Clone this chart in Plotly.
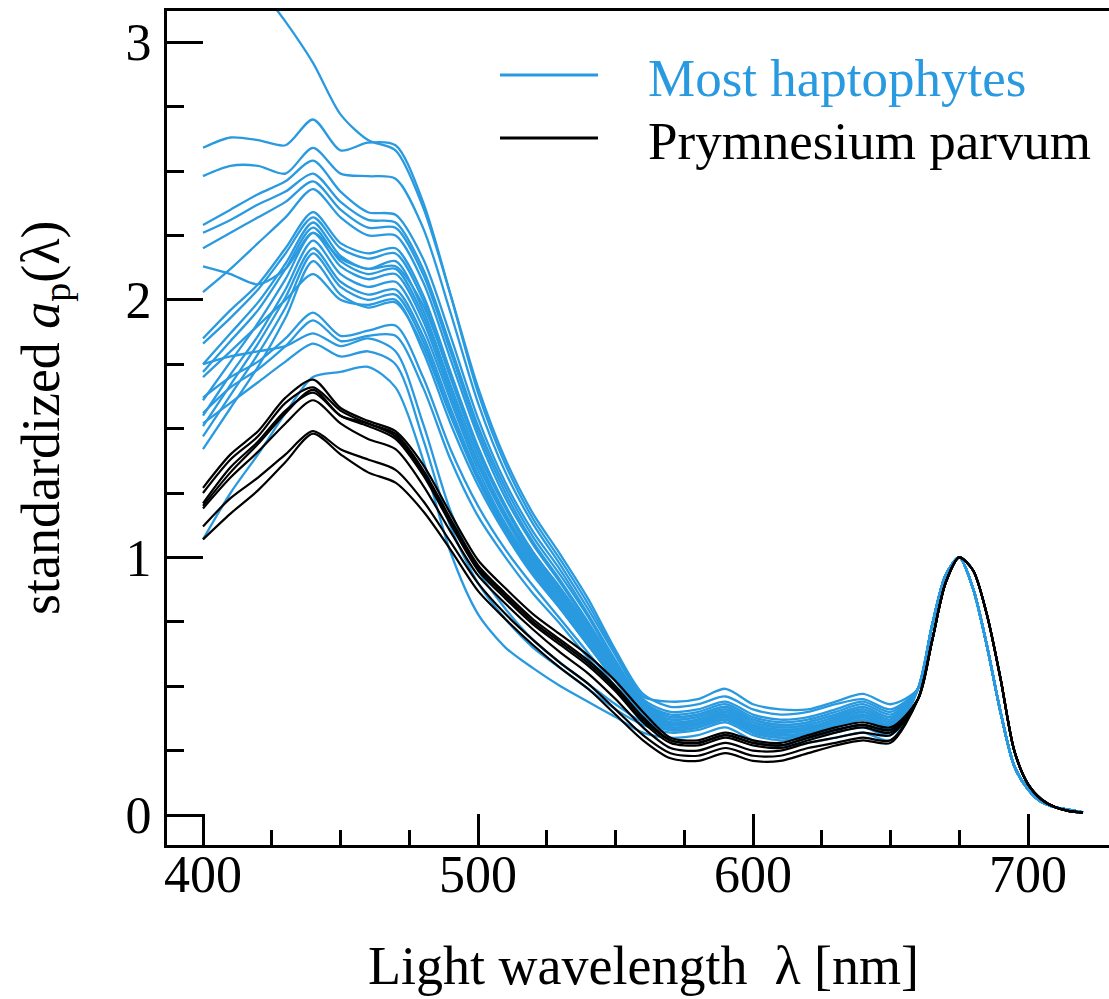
import plotly.graph_objects as go

# ---------------- data ----------------
WL_MAIN = [400, 410, 420, 430, 440, 450, 460, 470, 480, 490, 500, 510, 520,
           530, 540, 550, 560, 570, 580, 590, 600, 610, 620, 630, 640, 650]
WL_PEAK = [660, 665, 670, 675, 680, 685, 690, 695, 700, 705, 710, 715, 720]

BLUE_PEAK = [0.49, 0.73, 0.93, 1.00, 0.88, 0.66, 0.40, 0.19, 0.10, 0.05, 0.03, 0.02, 0.01]
BLACK_PEAK = [0.45, 0.67, 0.90, 1.00, 0.95, 0.78, 0.53, 0.25, 0.12, 0.06, 0.03, 0.015, 0.01]

# Most haptophytes (standardized a_p at WL_MAIN)
B00 = [3.52, 3.37, 3.22, 3.08, 2.92, 2.72, 2.62, 2.58, 2.36, 2.02, 1.66, 1.38, 1.17, 1.01, 0.84, 0.64, 0.47, 0.42, 0.43, 0.46, 0.41, 0.39, 0.40, 0.43, 0.45, 0.41]
B01 = [2.59, 2.63, 2.62, 2.60, 2.70, 2.58, 2.61, 2.60, 2.38, 2.02, 1.64, 1.36, 1.15, 0.99, 0.82, 0.63, 0.46, 0.44, 0.45, 0.49, 0.43, 0.41, 0.41, 0.44, 0.47, 0.43]
B02 = [2.48, 2.52, 2.52, 2.49, 2.59, 2.49, 2.48, 2.47, 2.28, 1.95, 1.60, 1.33, 1.13, 0.97, 0.80, 0.62, 0.45, 0.40, 0.41, 0.44, 0.39, 0.37, 0.38, 0.41, 0.44, 0.40]
B03 = [2.29, 2.35, 2.41, 2.46, 2.54, 2.42, 2.34, 2.33, 2.16, 1.86, 1.54, 1.29, 1.10, 0.95, 0.78, 0.60, 0.44, 0.39, 0.40, 0.43, 0.38, 0.36, 0.37, 0.40, 0.43, 0.39]
B04 = [2.26, 2.31, 2.37, 2.42, 2.49, 2.38, 2.31, 2.30, 2.12, 1.82, 1.51, 1.27, 1.08, 0.93, 0.77, 0.59, 0.44, 0.38, 0.39, 0.42, 0.37, 0.35, 0.36, 0.39, 0.42, 0.38]
B05 = [2.20, 2.26, 2.32, 2.38, 2.46, 2.35, 2.28, 2.28, 2.10, 1.80, 1.49, 1.25, 1.06, 0.91, 0.75, 0.58, 0.43, 0.37, 0.38, 0.41, 0.36, 0.34, 0.35, 0.38, 0.41, 0.37]
B06 = [2.13, 2.10, 2.06, 2.12, 2.26, 2.16, 2.12, 2.13, 1.98, 1.70, 1.42, 1.20, 1.02, 0.88, 0.73, 0.57, 0.42, 0.37, 0.38, 0.41, 0.36, 0.34, 0.35, 0.38, 0.41, 0.37]
B07 = [2.03, 2.12, 2.22, 2.32, 2.43, 2.32, 2.25, 2.25, 2.07, 1.77, 1.47, 1.23, 1.05, 0.90, 0.74, 0.58, 0.43, 0.38, 0.39, 0.42, 0.37, 0.35, 0.36, 0.39, 0.42, 0.38]
B08 = [1.85, 1.96, 2.06, 2.20, 2.34, 2.22, 2.18, 2.20, 2.02, 1.72, 1.43, 1.20, 1.02, 0.88, 0.73, 0.57, 0.42, 0.36, 0.37, 0.40, 0.35, 0.33, 0.34, 0.37, 0.40, 0.36]
B09 = [1.83, 1.93, 2.04, 2.18, 2.32, 2.20, 2.16, 2.18, 2.00, 1.70, 1.41, 1.19, 1.01, 0.87, 0.72, 0.56, 0.42, 0.36, 0.37, 0.40, 0.35, 0.33, 0.34, 0.37, 0.40, 0.36]
B10 = [1.75, 1.87, 1.99, 2.14, 2.30, 2.17, 2.12, 2.15, 1.96, 1.67, 1.39, 1.17, 1.00, 0.86, 0.71, 0.56, 0.41, 0.35, 0.36, 0.39, 0.34, 0.32, 0.33, 0.36, 0.39, 0.35]
B11 = [1.72, 1.84, 1.96, 2.12, 2.28, 2.15, 2.10, 2.12, 1.94, 1.65, 1.37, 1.16, 0.99, 0.85, 0.70, 0.55, 0.41, 0.35, 0.36, 0.39, 0.34, 0.32, 0.33, 0.36, 0.39, 0.35]
B12 = [1.61, 1.76, 1.91, 2.08, 2.26, 2.13, 2.08, 2.10, 1.92, 1.63, 1.36, 1.15, 0.98, 0.84, 0.70, 0.55, 0.41, 0.36, 0.37, 0.40, 0.35, 0.33, 0.34, 0.37, 0.40, 0.36]
B13 = [1.55, 1.71, 1.86, 2.04, 2.23, 2.10, 2.05, 2.07, 1.89, 1.61, 1.34, 1.13, 0.97, 0.83, 0.69, 0.54, 0.40, 0.35, 0.36, 0.39, 0.34, 0.32, 0.33, 0.36, 0.39, 0.35]
B14 = [1.51, 1.67, 1.83, 2.01, 2.20, 2.07, 2.02, 2.04, 1.86, 1.58, 1.32, 1.12, 0.96, 0.82, 0.68, 0.54, 0.40, 0.34, 0.35, 0.38, 0.33, 0.31, 0.32, 0.35, 0.38, 0.34]
B15 = [1.47, 1.63, 1.79, 1.97, 2.18, 2.05, 2.00, 2.02, 1.84, 1.56, 1.31, 1.11, 0.95, 0.81, 0.67, 0.53, 0.40, 0.34, 0.35, 0.38, 0.33, 0.31, 0.32, 0.35, 0.38, 0.34]
B16 = [1.42, 1.58, 1.74, 1.93, 2.15, 2.02, 1.97, 1.99, 1.82, 1.55, 1.30, 1.10, 0.94, 0.80, 0.66, 0.52, 0.39, 0.35, 0.36, 0.39, 0.34, 0.32, 0.33, 0.36, 0.39, 0.35]
B17 = [1.70, 1.80, 1.90, 2.00, 2.10, 2.00, 1.98, 2.00, 1.80, 1.52, 1.28, 1.09, 0.93, 0.80, 0.66, 0.52, 0.39, 0.33, 0.34, 0.37, 0.32, 0.30, 0.31, 0.34, 0.37, 0.33]
B18 = [1.62, 1.70, 1.76, 1.85, 1.95, 1.86, 1.88, 1.90, 1.70, 1.42, 1.20, 1.03, 0.89, 0.76, 0.63, 0.50, 0.38, 0.34, 0.35, 0.38, 0.33, 0.31, 0.32, 0.35, 0.38, 0.34]
B19 = [1.56, 1.66, 1.73, 1.82, 1.92, 1.84, 1.86, 1.86, 1.66, 1.38, 1.16, 1.00, 0.86, 0.74, 0.61, 0.49, 0.37, 0.33, 0.34, 0.37, 0.32, 0.30, 0.31, 0.34, 0.37, 0.33]
B20 = [1.75, 1.78, 1.80, 1.82, 1.87, 1.82, 1.85, 1.80, 1.52, 1.18, 0.95, 0.80, 0.68, 0.59, 0.51, 0.43, 0.36, 0.33, 0.34, 0.37, 0.32, 0.30, 0.31, 0.33, 0.35, 0.32]
B21 = [1.52, 1.60, 1.68, 1.76, 1.83, 1.78, 1.80, 1.75, 1.46, 1.12, 0.90, 0.76, 0.65, 0.57, 0.49, 0.41, 0.35, 0.32, 0.33, 0.36, 0.31, 0.29, 0.30, 0.32, 0.34, 0.31]
B22 = [1.07, 1.25, 1.40, 1.56, 1.70, 1.72, 1.74, 1.66, 1.38, 1.02, 0.78, 0.65, 0.57, 0.50, 0.44, 0.38, 0.32, 0.30, 0.31, 0.34, 0.29, 0.27, 0.28, 0.30, 0.32, 0.29]

# Prymnesium parvum
K1 = [1.27, 1.40, 1.49, 1.62, 1.69, 1.58, 1.53, 1.49, 1.36, 1.17, 0.99, 0.88, 0.78, 0.70, 0.62, 0.52, 0.40, 0.30, 0.29, 0.32, 0.29, 0.28, 0.31, 0.34, 0.36, 0.34]
K2 = [1.25, 1.38, 1.47, 1.60, 1.66, 1.57, 1.52, 1.48, 1.34, 1.15, 0.97, 0.86, 0.76, 0.68, 0.60, 0.50, 0.38, 0.29, 0.28, 0.31, 0.28, 0.27, 0.30, 0.33, 0.35, 0.33]
K3 = [1.21, 1.35, 1.45, 1.57, 1.64, 1.55, 1.51, 1.46, 1.32, 1.13, 0.95, 0.84, 0.74, 0.66, 0.58, 0.48, 0.36, 0.28, 0.27, 0.30, 0.27, 0.26, 0.29, 0.32, 0.34, 0.32]
K4 = [1.19, 1.31, 1.41, 1.52, 1.61, 1.52, 1.46, 1.42, 1.28, 1.10, 0.93, 0.82, 0.72, 0.63, 0.55, 0.45, 0.34, 0.26, 0.25, 0.28, 0.25, 0.25, 0.28, 0.30, 0.32, 0.31]
K5 = [1.12, 1.23, 1.31, 1.40, 1.49, 1.42, 1.38, 1.34, 1.22, 1.06, 0.90, 0.78, 0.68, 0.59, 0.51, 0.41, 0.31, 0.24, 0.23, 0.26, 0.23, 0.23, 0.26, 0.28, 0.30, 0.29]
K6 = [1.07, 1.17, 1.26, 1.37, 1.48, 1.40, 1.33, 1.29, 1.18, 1.03, 0.87, 0.76, 0.66, 0.57, 0.49, 0.39, 0.29, 0.22, 0.21, 0.24, 0.21, 0.21, 0.24, 0.27, 0.29, 0.28]
K7 = [1.20, 1.33, 1.44, 1.56, 1.65, 1.55, 1.52, 1.47, 1.33, 1.14, 0.96, 0.85, 0.75, 0.67, 0.59, 0.49, 0.37, 0.29, 0.28, 0.31, 0.28, 0.27, 0.30, 0.33, 0.35, 0.33]

HAPTO = [B00, B01, B02, B03, B04, B05, B06, B07, B08, B09, B10, B11, B12,
         B13, B14, B15, B16, B17, B18, B19, B20, B21, B22]
PRYMN = [K1, K2, K3, K4, K5, K6, K7]

X_TICKS = [400, 500, 600, 700]
X_MINOR = [425, 450, 475, 525, 550, 575, 625, 650, 675]
Y_TICKS = [0, 1, 2, 3]

LEGEND_LABELS = ["Most haptophytes", "Prymnesium parvum"]
BLUE = "#2A9AE0"
BLACK = "#000000"
FONT = "Liberation Serif, Times New Roman, serif"

# ---------------- figure ----------------
fig = go.Figure()
wl = WL_MAIN + WL_PEAK
for curve in HAPTO:
    fig.add_trace(go.Scatter(x=wl, y=curve + BLUE_PEAK, mode="lines",
                             line=dict(color=BLUE, width=2.3, shape="spline", smoothing=0.8),
                             showlegend=False, hoverinfo="skip"))
for curve in PRYMN:
    fig.add_trace(go.Scatter(x=wl, y=curve + BLACK_PEAK, mode="lines",
                             line=dict(color=BLACK, width=2.2, shape="spline", smoothing=0.8),
                             showlegend=False, hoverinfo="skip"))

W, H = 1109, 999
L, R, T, B = 167, 0, 11, 154
pw, ph = W - L - R, H - T - B

def px(x):
    return (x - L) / pw

def py(y):
    return (H - B - y) / ph

fig.update_layout(
    width=W, height=H,
    margin=dict(l=L, r=R, t=T, b=B, pad=0),
    paper_bgcolor="white", plot_bgcolor="white",
    font=dict(family=FONT, size=52, color="black"),
    showlegend=False,
)
fig.update_xaxes(
    range=[400 - 36 / 2.75, 400 + (W - 203) / 2.75],
    showgrid=False, zeroline=False,
    showline=True, linecolor="black", linewidth=3, mirror=True,
    ticks="inside", ticklen=31, tickwidth=2.5, tickcolor="black",
    tickvals=X_TICKS, ticktext=[str(v) for v in X_TICKS],
    tickfont=dict(family=FONT, size=52),
    ticklabelstandoff=-18,
    minor=dict(ticks="inside", ticklen=15, tickwidth=2.5, tickcolor="black",
               tickvals=X_MINOR, showgrid=False),
)
fig.update_yaxes(
    range=[(815 - 845) / 257.6, (815 - 11) / 257.6],
    showgrid=False, zeroline=False,
    showline=True, linecolor="black", linewidth=3, mirror=False,
    ticks="inside", ticklen=36, tickwidth=2.5, tickcolor="black",
    tickvals=Y_TICKS, ticktext=[str(v) for v in Y_TICKS],
    tickfont=dict(family=FONT, size=52),
    ticklabelstandoff=2,
    minor=dict(ticks="inside", ticklen=17, tickwidth=2.5, tickcolor="black",
               dtick=0.25, tick0=0, showgrid=False),
)

# axis titles
fig.add_annotation(x=px(643), y=py(966), xref="paper", yref="paper",
                   text="Light wavelength \u00a0\u03bb [nm]", showarrow=False,
                   font=dict(family=FONT, size=54, color="black"),
                   xanchor="center", yanchor="middle")
fig.add_annotation(x=px(45), y=py(418), xref="paper", yref="paper",
                   text="standardized <i>a</i><sub>p</sub>(\u03bb)", showarrow=False,
                   textangle=-90,
                   font=dict(family=FONT, size=54, color="black"),
                   xanchor="center", yanchor="middle")

# legend
for label, color, yy in zip(LEGEND_LABELS, [BLUE, BLACK], [75, 138]):
    fig.add_shape(type="line", xref="paper", yref="paper",
                  x0=px(500), x1=px(598), y0=py(yy), y1=py(yy),
                  line=dict(color=color, width=3))
    fig.add_annotation(x=px(646), y=py(yy + 3), xref="paper", yref="paper",
                       text=label, showarrow=False,
                       font=dict(family=FONT, size=53, color=color),
                       xanchor="left", yanchor="middle")

fig.write_html("out.html")
